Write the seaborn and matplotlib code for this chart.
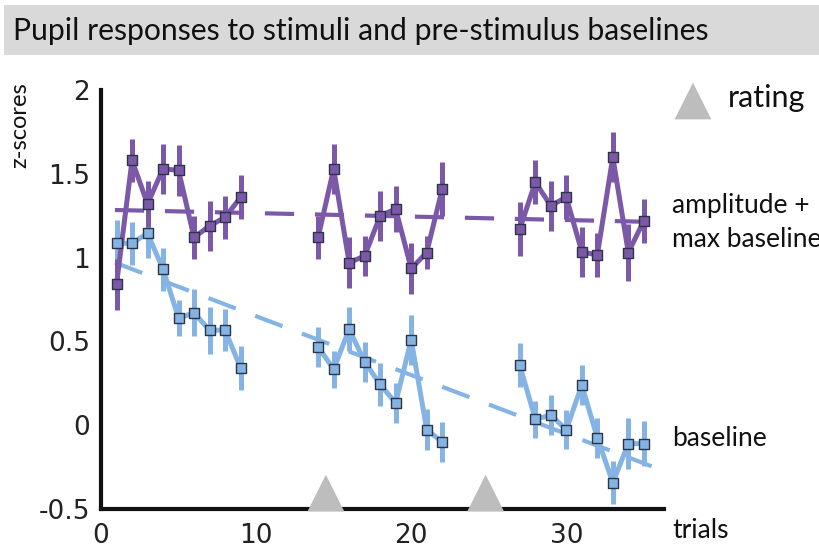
import matplotlib
matplotlib.use("Agg")
import matplotlib.pyplot as plt
import matplotlib.patches as mpatches
import numpy as np
import pandas as pd
import seaborn as sns

# ---------------- data ----------------
trials_b1 = [1, 2, 3, 4, 5, 6, 7, 8, 9]
trials_b2 = [14, 15, 16, 17, 18, 19, 20, 21, 22]
trials_b3 = [27, 28, 29, 30, 31, 32, 33, 34, 35]

amp_b1 = [0.84, 1.58, 1.32, 1.53, 1.52, 1.12, 1.19, 1.24, 1.36]
amp_b2 = [1.12, 1.53, 0.97, 1.01, 1.25, 1.29, 0.935, 1.03, 1.41]
amp_b3 = [1.17, 1.45, 1.31, 1.36, 1.035, 1.015, 1.60, 1.03, 1.22]
amp_err_b1 = [0.15, 0.13, 0.14, 0.15, 0.15, 0.13, 0.15, 0.13, 0.13]
amp_err_b2 = [0.13, 0.15, 0.15, 0.12, 0.15, 0.14, 0.15, 0.10, 0.16]
amp_err_b3 = [0.16, 0.13, 0.15, 0.13, 0.15, 0.13, 0.15, 0.17, 0.13]

base_b1 = [1.085, 1.085, 1.145, 0.93, 0.64, 0.67, 0.567, 0.567, 0.342]
base_b2 = [0.467, 0.334, 0.573, 0.378, 0.243, 0.133, 0.51, -0.026, -0.10]
base_b3 = [0.358, 0.036, 0.06, -0.026, 0.239, -0.075, -0.342, -0.11, -0.11]
base_err_b1 = [0.14, 0.13, 0.15, 0.13, 0.11, 0.14, 0.14, 0.125, 0.13]
base_err_b2 = [0.12, 0.11, 0.13, 0.12, 0.13, 0.12, 0.15, 0.12, 0.12]
base_err_b3 = [0.13, 0.11, 0.12, 0.115, 0.12, 0.12, 0.13, 0.15, 0.135]

trend_x = [0.9, 35.5]
amp_trend = [1.284, 1.213]
base_trend = [0.97, -0.245]

rating_trials = [14.5, 24.8]
rating_y = [-0.405, -0.405]

x_ticks = [0, 10, 20, 30]
y_ticks = [-0.5, 0, 0.5, 1, 1.5, 2]
y_ticklabels = ["-0.5", "0", "0.5", "1", "1.5", "2"]

title = "Pupil responses to stimuli and pre-stimulus baselines"
ylabel = "z-scores"
xlabel = "trials"

# ---------------- build table ----------------
rows = []
for blk, (tr, a, ae, b, be) in enumerate([
        (trials_b1, amp_b1, amp_err_b1, base_b1, base_err_b1),
        (trials_b2, amp_b2, amp_err_b2, base_b2, base_err_b2),
        (trials_b3, amp_b3, amp_err_b3, base_b3, base_err_b3)]):
    for t, av, aev, bv, bev in zip(tr, a, ae, b, be):
        rows.append(dict(block=blk, trial=t, amp=av, amp_err=aev, base=bv, base_err=bev))
df = pd.DataFrame(rows)
trend_df = pd.DataFrame(dict(x=trend_x, amp=amp_trend, base=base_trend))

PURPLE = "#7b58a8"
BLUE = "#85b4e4"
EDGE = "#2c3447"
LABEL_FONT = ["Lato", "DejaVu Sans"]

sns.set_theme(style="white")
plt.rcParams["font.family"] = ["DejaVu Sans"]

fig = plt.figure(figsize=(8.2, 5.5), dpi=100)
ax = fig.add_axes([101 / 820, 41 / 550, 563 / 820, 419 / 550])

# trend lines
sns.lineplot(data=trend_df, x="x", y="amp", ax=ax, color=PURPLE, lw=3.0,
             dashes=False, zorder=1)
sns.lineplot(data=trend_df, x="x", y="base", ax=ax, color=BLUE, lw=3.0,
             dashes=False, zorder=1)
for ln in ax.lines:
    ln.set_dashes((7, 5))

for col, err, colr in [("base", "base_err", BLUE), ("amp", "amp_err", PURPLE)]:
    ax.errorbar(df["trial"], df[col], yerr=df[err], fmt="none", ecolor=colr,
                elinewidth=3.6, capsize=0, zorder=2)
    sns.lineplot(data=df, x="trial", y=col, units="block", estimator=None,
                 ax=ax, color=colr, lw=3.6, zorder=3)
    sns.scatterplot(data=df, x="trial", y=col, ax=ax, marker="s", s=42,
                    color=colr, edgecolor=EDGE, linewidth=1.0, zorder=4)

# rating markers
sns.scatterplot(x=rating_trials, y=rating_y, ax=ax, marker="^", s=700,
                color="#bdbdbd", edgecolor="none", zorder=5, clip_on=False)

ax.set_xlim(0, 36.3)
ax.set_ylim(-0.5, 2)
ax.set_xticks(x_ticks)
ax.set_yticks(y_ticks)
ax.set_yticklabels(y_ticklabels)
ax.set_xlabel("")
ax.set_ylabel("")
for s in ["top", "right"]:
    ax.spines[s].set_visible(False)
for s in ["left", "bottom"]:
    ax.spines[s].set_linewidth(3.0)
    ax.spines[s].set_color("#111111")
ax.tick_params(axis="both", direction="in", length=6, width=3, color="#111111",
               labelsize=19, labelcolor="#222222", pad=8)
ax.tick_params(axis="x", pad=10)

# title band
fig.patches.append(mpatches.Rectangle((4 / 820, 1 - 55 / 550), 816 / 820, 50 / 550,
                                      transform=fig.transFigure, facecolor="#d9d9d9",
                                      edgecolor="none", zorder=0))
fig.text(13 / 820, 1 - 31 / 550, title, fontsize=21.7, family=LABEL_FONT,
         color="#111111", va="center", ha="left")

fig.text(20 / 820, 1 - 125 / 550, ylabel, fontsize=17, family=LABEL_FONT,
         rotation=90, va="center", ha="center", color="#111111")

# right-side labels
ax_leg = fig.add_axes([0, 0, 1, 1], facecolor="none")
ax_leg.set_axis_off()
ax_leg.set_xlim(0, 820)
ax_leg.set_ylim(550, 0)
sns.scatterplot(x=[693], y=[101], ax=ax_leg, marker="^", s=700,
                color="#bdbdbd", edgecolor="none")
fig.text(728 / 820, 1 - 98 / 550, "rating", fontsize=22, family=LABEL_FONT,
         va="center", ha="left", color="#111111")
fig.text(672 / 820, 1 - 206 / 550, "amplitude +", fontsize=19, family=LABEL_FONT,
         va="center", ha="left", color="#111111")
fig.text(672 / 820, 1 - 240 / 550, "max baseline", fontsize=19, family=LABEL_FONT,
         va="center", ha="left", color="#111111")
fig.text(672 / 820, 1 - 438 / 550, "baseline", fontsize=19, family=LABEL_FONT,
         va="center", ha="left", color="#111111")
fig.text(672 / 820, 1 - 531 / 550, xlabel, fontsize=19, family=LABEL_FONT,
         va="center", ha="left", color="#111111")

fig.savefig("out.png", dpi=100)
